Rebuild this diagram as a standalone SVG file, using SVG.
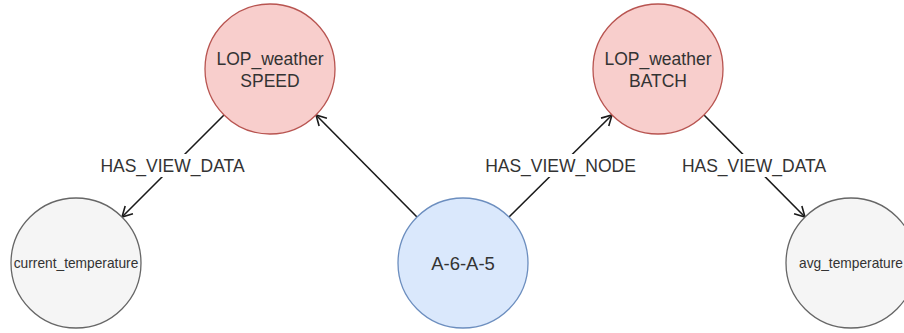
<svg xmlns="http://www.w3.org/2000/svg" width="904" height="333" viewBox="0 0 904 333">
  <style>
    .n-red { fill: #f8cecc; stroke: #b85450; stroke-width: 1.3; }
    .n-blue { fill: #dae8fc; stroke: #6c8ebf; stroke-width: 1.3; }
    .n-gray { fill: #f5f5f5; stroke: #666666; stroke-width: 1.3; }
    .lbl { font-family: "Liberation Sans", Arial, sans-serif; fill: #333333; text-anchor: middle; }
    .big { font-size: 17.5px; }
    .small { font-size: 13.75px; }
    .edge { stroke: #1a1a1a; stroke-width: 1.6; fill: none; marker-end: url(#open); }
    .bg { fill: #ffffff; }
  </style>
  <defs>
    <marker id="open" markerUnits="userSpaceOnUse" markerWidth="16" markerHeight="16" viewBox="-12 -8 14 16" refX="0" refY="0" orient="auto">
      <path d="M-10,-5.5 L0,0 L-10,5.5" fill="none" stroke="#1a1a1a" stroke-width="1.6"/>
    </marker>
  </defs>

  <g id="connectors">
    <line class="edge" x1="224" y1="115" x2="122" y2="217"/>
    <line class="edge" x1="417" y1="217" x2="316" y2="115"/>
    <line class="edge" x1="509" y1="217" x2="612" y2="115"/>
    <line class="edge" x1="704" y1="115" x2="805" y2="217"/>
    <rect class="bg" x="98" y="154" width="150" height="23"/>
    <text class="lbl big" x="172.5" y="172">HAS_VIEW_DATA</text>
    <rect class="bg" x="483" y="154" width="155" height="23"/>
    <text class="lbl big" x="560.5" y="172">HAS_VIEW_NODE</text>
    <rect class="bg" x="680" y="154" width="148" height="23"/>
    <text class="lbl big" x="754" y="172">HAS_VIEW_DATA</text>
  </g>

  <g id="node-speed">
    <circle class="n-red" cx="270" cy="69" r="65"/>
    <text class="lbl big" x="270" y="65">LOP_weather</text>
    <text class="lbl big" x="270" y="87">SPEED</text>
  </g>

  <g id="node-batch">
    <circle class="n-red" cx="658" cy="69" r="65"/>
    <text class="lbl big" x="658" y="65">LOP_weather</text>
    <text class="lbl big" x="658" y="87">BATCH</text>
  </g>

  <g id="node-current">
    <circle class="n-gray" cx="76" cy="263" r="65"/>
    <text class="lbl small" x="76" y="268">current_temperature</text>
  </g>

  <g id="node-a6a5">
    <circle class="n-blue" cx="463" cy="263" r="65"/>
    <text class="lbl" x="463" y="270" style="font-size:18.5px">A-6-A-5</text>
  </g>

  <g id="node-avg">
    <circle class="n-gray" cx="851" cy="263" r="65"/>
    <text class="lbl small" x="851" y="268">avg_temperature</text>
  </g>
</svg>
